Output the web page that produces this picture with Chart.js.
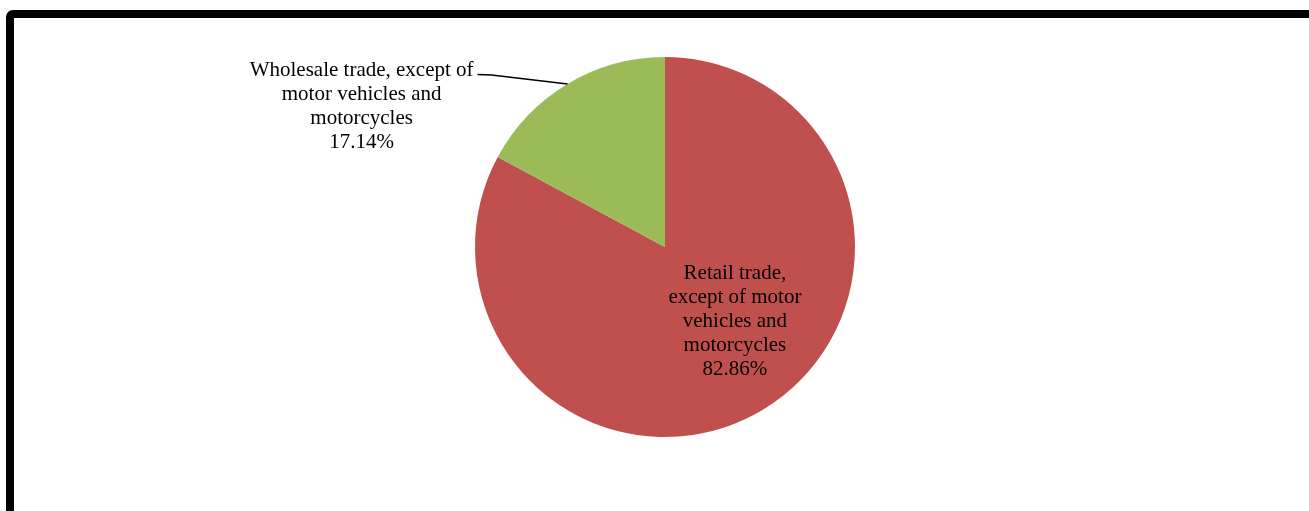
<!DOCTYPE html>
<html>
<head>
<meta charset="utf-8">
<script src="https://cdn.jsdelivr.net/npm/chart.js@4/dist/chart.umd.min.js"></script>
<style>
  html, body { margin: 0; padding: 0; background: #ffffff; }
  #wrap { position: relative; width: 1309px; height: 511px; }
</style>
</head>
<body>
<div id="wrap"><canvas id="chart" width="1309" height="511"></canvas></div>
<script>
// Share of trade by activity (percent)
const categories = [
  ['Retail trade,', 'except of motor', 'vehicles and', 'motorcycles'],
  ['Wholesale trade, except of', 'motor vehicles and', 'motorcycles']
];
const shares = [82.86, 17.14];
const sliceColors = ['#C0504D', '#9BBB59'];

const FONT = '21px "Liberation Serif", "Times New Roman", serif';
const LINE_H = 24;

function drawLines(ctx, lines, cx, topY) {
  lines.forEach((t, i) => ctx.fillText(t, cx, topY + i * LINE_H));
}

// Frame around the whole drawing
const framePlugin = {
  id: 'frame',
  beforeDraw(chart) {
    const ctx = chart.ctx;
    ctx.save();
    ctx.strokeStyle = '#000000';
    ctx.lineWidth = 8;
    ctx.beginPath();
    ctx.roundRect(10, 14, 1400, 600, 3);
    ctx.stroke();
    ctx.restore();
  }
};

// Category name + percentage labels, one inside and one outside with a leader line
const sliceLabels = {
  id: 'sliceLabels',
  afterDatasetsDraw(chart) {
    const ctx = chart.ctx;
    const arcs = chart.getDatasetMeta(0).data;
    ctx.save();
    ctx.font = FONT;
    ctx.fillStyle = '#000000';
    ctx.textAlign = 'center';
    ctx.textBaseline = 'middle';

    // Inside label for the large slice
    {
      const a = arcs[0];
      const { x, y, outerRadius } = a.getProps(['x', 'y', 'outerRadius'], true);
      const lines = categories[0].concat([shares[0].toFixed(2) + '%']);
      const cx = x + outerRadius * 0.368;
      const cy = y + outerRadius * 0.39;
      drawLines(ctx, lines, cx, cy - (lines.length - 1) * LINE_H / 2);
    }

    // Outside label for the small slice
    {
      const a = arcs[1];
      const { x, y, startAngle, endAngle, outerRadius } =
        a.getProps(['x', 'y', 'startAngle', 'endAngle', 'outerRadius'], true);
      const mid = (startAngle + endAngle) / 2;
      const ex = x + outerRadius * Math.cos(mid);
      const ey = y + outerRadius * Math.sin(mid);
      const kx = ex - 76, ky = ey - 9;
      const lx = kx - 14;
      ctx.strokeStyle = '#000000';
      ctx.lineWidth = 1.5;
      ctx.beginPath();
      ctx.moveTo(ex, ey);
      ctx.lineTo(kx, ky);
      ctx.lineTo(lx, ky - 0.5);
      ctx.stroke();

      const lines = categories[1].concat([shares[1].toFixed(2) + '%']);
      const firstW = ctx.measureText(lines[0]).width;
      const cx = lx - 4 - firstW / 2;
      drawLines(ctx, lines, cx, ky - 4);
    }
    ctx.restore();
  }
};

new Chart(document.getElementById('chart'), {
  type: 'pie',
  data: {
    labels: categories.map(c => c.join(' ')),
    datasets: [{
      data: shares,
      backgroundColor: sliceColors,
      borderWidth: 0
    }]
  },
  options: {
    responsive: false,
    animation: false,
    layout: { padding: { left: 21, right: 0, top: 57, bottom: 74 } },
    plugins: {
      legend: { display: false },
      tooltip: { enabled: false }
    }
  },
  plugins: [framePlugin, sliceLabels]
});
</script>
</body>
</html>
